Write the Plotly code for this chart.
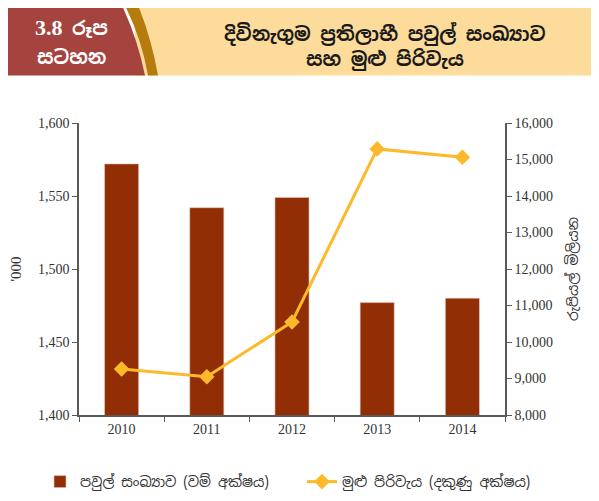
import plotly.graph_objects as go

years = ["2010", "2011", "2012", "2013", "2014"]
families = [1572, 1542, 1549, 1477, 1480]          # '000, left axis
total_cost = [9260, 9050, 10550, 15290, 15060]      # Rs. million, right axis

bar_name = "පවුල් සංඛ්‍යාව (වම් අක්ෂය)"
line_name = "මුළු පිරිවැය (දකුණු අක්ෂය)"
title_l1 = "දිවිනැගුම ප්‍රතිලාභී පවුල් සංඛ්‍යාව"
title_l2 = "සහ මුළු පිරිවැය"
badge_num = "3.8"
badge_l1 = "රූප"
badge_l2 = "සටහන"
left_title = "'000"
right_title = "රුපියල් මිලියන"

# page body has an 8px margin; work in page pixels and convert
OFF = 8
W, H = 599 - OFF, 501 - OFF
PL, PR, PT, PB = 79, 505, 122.5, 414.7      # plot area in page pixels
L, T = PL - OFF, PT - OFF
R, B = W - (PR - OFF), H - (PB - OFF)
PW, PH = W - L - R, H - T - B

def px(x):
    return (x - PL) / PW

def py(y):
    return (PB - y) / PH

def cx(x):
    return (x - OFF) / W

def cy(y):
    return 1 - (y - OFF) / H

SER = "Liberation Serif, Times New Roman, serif"
SIN = "Noto Sans Sinhala, Iskoola Pota, Noto Sans, sans-serif"

fig = go.Figure()
fig.add_trace(go.Bar(
    x=years, y=families, name=bar_name, width=0.4,
    marker=dict(color="#922E05", line=dict(color="#E9C9BD", width=0.6)),
    yaxis="y", legend="legend",
))
fig.add_trace(go.Scatter(
    x=years, y=total_cost, name=line_name, mode="lines+markers",
    line=dict(color="#FDB92A", width=3),
    marker=dict(symbol="diamond", size=12, color="#FDB92A"),
    yaxis="y2", legend="legend2",
))

shapes = [
    dict(type="rect", xref="paper", yref="paper", x0=px(135), x1=px(595), y0=py(75), y1=py(7),
         fillcolor="#FDDC9B", line=dict(width=0), layer="below"),
    dict(type="path", xref="paper", yref="paper",
         path=f"M {px(126)} {py(7)} L {px(139)} {py(7)} Q {px(152)} {py(40)} {px(158)} {py(75)} L {px(148)} {py(75)} Q {px(142)} {py(40)} {px(126)} {py(7)} Z",
         fillcolor="#B57B0C", line=dict(width=0), layer="below"),
    dict(type="path", xref="paper", yref="paper",
         path=f"M {px(3)} {py(7)} L {px(123)} {py(7)} Q {px(138)} {py(40)} {px(145)} {py(75)} L {px(3)} {py(75)} Z",
         fillcolor="#A5443F", line=dict(width=0), layer="below"),
]

def ann(text, x, y, color, size=19, family=SIN):
    return dict(text=text, x=px(x), y=py(y), xref="paper", yref="paper",
                xanchor="center", yanchor="middle", showarrow=False,
                font=dict(family=family, size=size, color=color))

annotations = [
    ann(f"<b>{title_l1}</b>", 385, 33, "#1a1a1a"),
    ann(f"<b>{title_l2}</b>", 385, 59, "#1a1a1a"),
    ann(f"<span style='font-family:Liberation Serif;font-size:22px'><b>{badge_num}</b></span> <b>{badge_l1}</b>",
        71, 27, "white"),
    ann(f"<b>{badge_l2}</b>", 71, 57, "white"),
]

axis_line = dict(showline=True, linecolor="#595959", linewidth=1.5, ticks="outside",
                 tickcolor="#595959", ticklen=5, tickwidth=1.2, showgrid=False, zeroline=False,
                 automargin=False,
                 tickfont=dict(family=SER, size=14, color="#333333"))

leg_common = dict(orientation="h", xref="container", yref="container",
                  xanchor="left", y=cy(482), yanchor="middle",
                  font=dict(family=SIN, size=14, color="#333333"),
                  bgcolor="rgba(0,0,0,0)")

fig.update_layout(
    width=W, height=H,
    margin=dict(l=L, r=R, t=T, b=B),
    plot_bgcolor="white", paper_bgcolor="white",
    showlegend=True,
    legend=dict(x=cx(40), **leg_common),
    legend2=dict(x=cx(302), **leg_common),
    xaxis=dict(type="category", tickson="boundaries", **axis_line),
    yaxis=dict(range=[1400, 1600], dtick=50, tickformat=",", **axis_line,
               title=dict(text=left_title, font=dict(family=SER, size=15, color="#333333"), standoff=24)),
    yaxis2=dict(range=[8000, 16000], dtick=1000, tickformat=",", overlaying="y", side="right",
                **axis_line,
                title=dict(text=right_title, font=dict(family=SIN, size=14, color="#333333"), standoff=16)),
    bargap=0.6,
    shapes=shapes,
    annotations=annotations,
)

fig.write_html("out.html")
